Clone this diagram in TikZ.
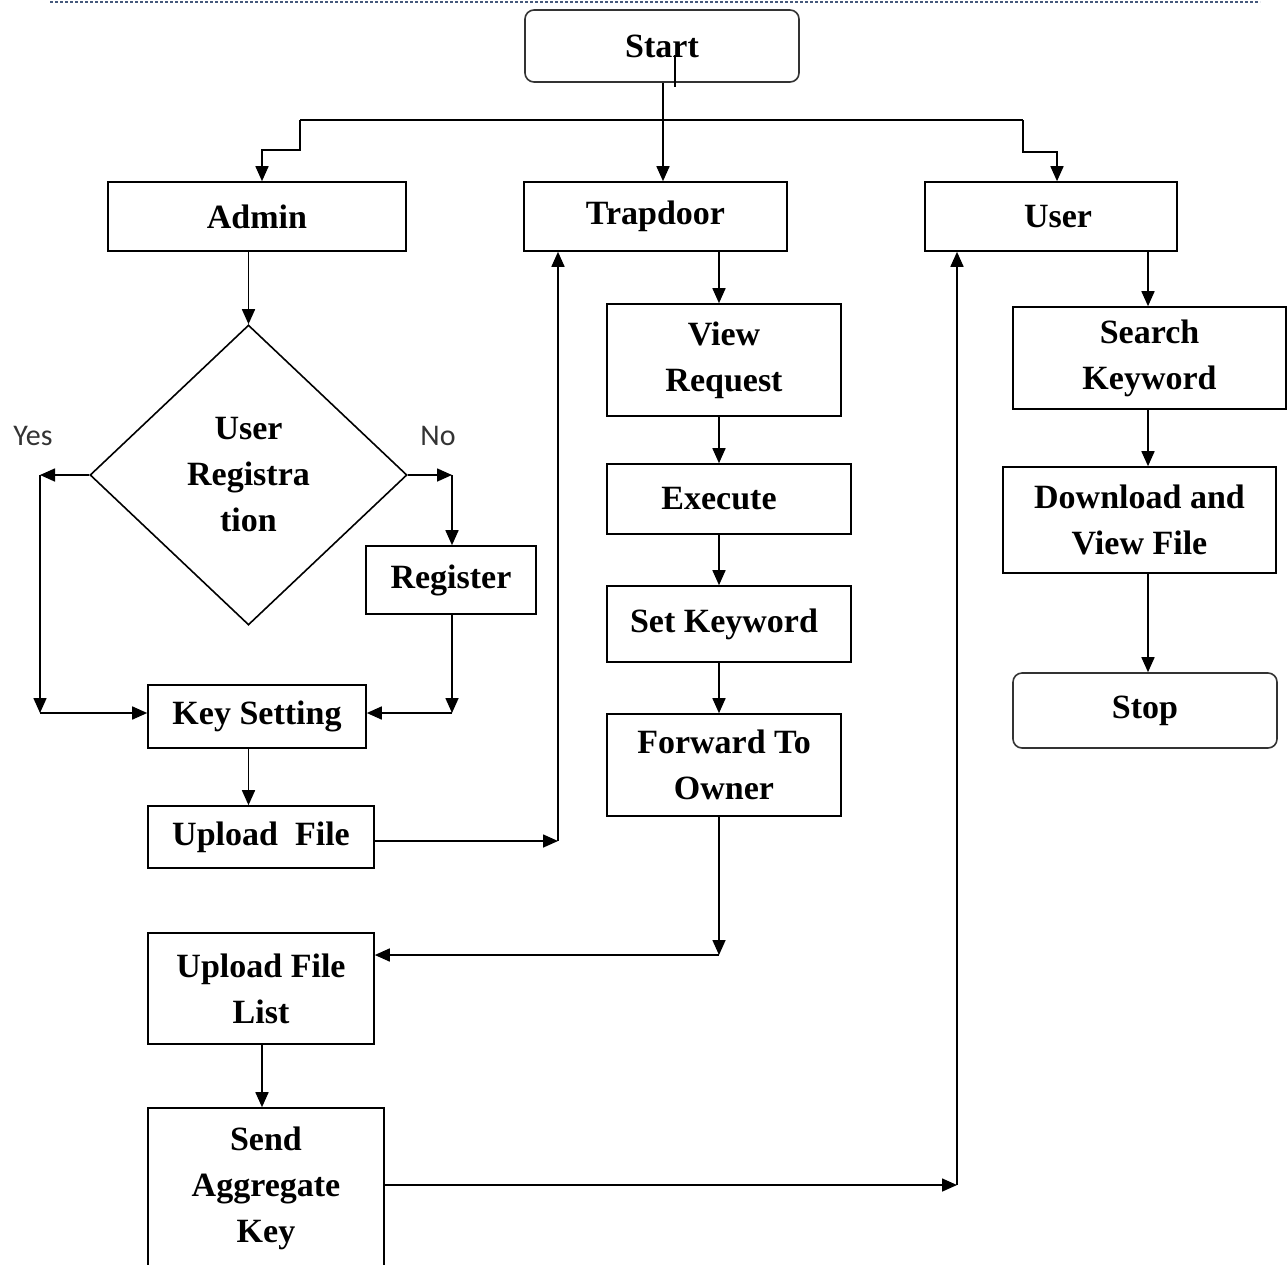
\documentclass[tikz,border=0pt]{standalone}
\usepackage{fontspec}
\setmainfont{Liberation Serif}
\newfontfamily\lblfont{Carlito}
\usetikzlibrary{arrows.meta,shapes.geometric}
\definecolor{rulecol}{RGB}{70,90,125}
\begin{document}
\begin{tikzpicture}[x=1pt,y=-1pt,
 box/.style={draw, line width=1.6pt, inner sep=0pt, align=center, font=\fontsize{34}{46}\selectfont\bfseries},
 term/.style={box, rounded corners=9pt, draw=black!80},
 arr/.style={line width=1.6pt, -{Triangle[length=15pt,width=13pt]}},
 ln/.style={line width=1.6pt},
 lbl/.style={font=\lblfont\fontsize{30}{36}\selectfont, text=black!80},
]
\useasboundingbox (0,0) rectangle (1287,1264);
\clip (0,0) rectangle (1287,1264);

% top rule
\draw[rulecol, line width=2pt, dash pattern=on 3pt off 2pt] (50,2) -- (1260,2);

% nodes
\node[term, minimum width=274pt, minimum height=72pt] (start) at (662,46) {Start};
\node[box, minimum width=298pt, minimum height=69pt] (admin) at (257,216.5) {Admin};
\node[box, minimum width=263pt, minimum height=69pt] (trap) at (655.5,216.5) {\raisebox{-3pt}{Trapdoor}};
\node[box, minimum width=252pt, minimum height=69pt] (user) at (1051,216.5) {\hspace*{14pt}User};
\node[box, diamond, minimum width=317pt, minimum height=300pt] (dia) at (248.5,475) {User\\Registra\\tion};
\node[box, minimum width=170pt, minimum height=68pt] (reg) at (451,580) {Register};
\node[box, minimum width=218pt, minimum height=63pt] (key) at (257,716.5) {Key Setting};
\node[box, minimum width=226pt, minimum height=62pt] (up) at (261,837) {Upload\ \ File};
\node[box, minimum width=234pt, minimum height=112pt] (vr) at (724,360) {View\\Request};
\node[box, minimum width=244pt, minimum height=70pt] (ex) at (729,499) {\hspace*{-20pt}Execute};
\node[box, minimum width=244pt, minimum height=76pt] (sk) at (729,624) {\hspace*{-10pt}Set Keyword};
\node[box, minimum width=234pt, minimum height=102pt] (fw) at (724,765) {Forward To\\Owner};
\node[box, minimum width=226pt, minimum height=111pt] (ufl) at (261,988.5) {Upload File\\List};
\node[box, minimum width=236pt, minimum height=160pt] (send) at (266,1188) {Send\\Aggregate\\Key};
\node[box, minimum width=273pt, minimum height=102pt] (sk2) at (1149.5,358) {Search\\Keyword};
\node[box, minimum width=273pt, minimum height=106pt] (dl) at (1139.5,520) {Download and\\View File};
\node[term, minimum width=264pt, minimum height=75pt] (stop) at (1145,710.5) {Stop};

% labels
\node[lbl] (yes) at (33,436) {Yes};
\node[lbl] (no) at (438,436) {No};

% helper coordinates
\coordinate (cx) at (663,0);
\coordinate (tx) at (719,0);
\coordinate (ux) at (1148,0);
\coordinate (lx) at (262,0);
\coordinate (rx) at (1057,0);
\coordinate (bl) at (300,120);
\coordinate (br) at (1023,120);
\coordinate (ya) at (40,475);
\coordinate (yb) at (40,713);
\coordinate (na) at (452,475);
\coordinate (nb) at (452,713);
\coordinate (ua) at (558,841);
\coordinate (fa) at (719,955);
\coordinate (sa) at (957,1185);
\coordinate (art1) at (675,55);
\coordinate (art2) at (675,87);

% start branches
\draw[ln] (art1) -- (art2);
\draw[arr] (start.south -| cx) -- (trap.north -| cx);
\draw[ln] (bl) -- (br);
\draw[arr] (bl) -- ++(0,30) -| (admin.north -| lx);
\draw[arr] (br) -- ++(0,32) -| (user.north -| rx);

% admin column
\draw[arr] (admin.south -| dia.north) -- (dia.north);
\draw[arr] (dia.west) -- (ya);
\draw[arr] (ya) -- (yb);
\draw[arr] (yb) -- (key.west |- yb);
\draw[arr] (dia.east) -- (na);
\draw[arr] (na) -- (reg.north -| na);
\draw[arr] (reg.south -| na) -- (nb);
\draw[arr] (nb) -- (key.east |- nb);
\draw[arr] (key.south -| dia.north) -- (up.north -| dia.north);
\draw[arr] (up.east |- ua) -- (ua);
\draw[arr] (ua) -- (trap.south -| ua);

% trapdoor column
\draw[arr] (trap.south -| tx) -- (vr.north -| tx);
\draw[arr] (vr.south -| tx) -- (ex.north -| tx);
\draw[arr] (ex.south -| tx) -- (sk.north -| tx);
\draw[arr] (sk.south -| tx) -- (fw.north -| tx);
\draw[arr] (fw.south -| tx) -- (fa);
\draw[arr] (fa) -- (ufl.east |- fa);
\draw[arr] (ufl.south -| lx) -- (send.north -| lx);
\draw[arr] (send.east |- sa) -- (sa);
\draw[arr] (sa) -- (user.south -| sa);

% user column
\draw[arr] (user.south -| ux) -- (sk2.north -| ux);
\draw[arr] (sk2.south -| ux) -- (dl.north -| ux);
\draw[arr] (dl.south -| ux) -- (stop.north -| ux);
\end{tikzpicture}
\end{document}
